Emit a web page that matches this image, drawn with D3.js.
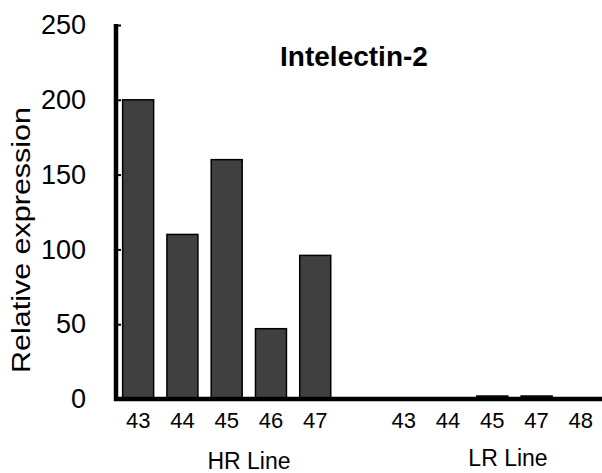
<!DOCTYPE html>
<html>
<head>
<meta charset="utf-8">
<script src="https://cdn.jsdelivr.net/npm/d3@7"></script>
<style>
  body { margin: 0; background: #fff; }
  text { font-family: "Liberation Sans", Arial, sans-serif; fill: #000; }
</style>
</head>
<body>
<div id="chart"></div>
<script>
// data
const groups = ["HR Line", "LR Line"]
const hrSamples = ["43", "44", "45", "46", "47"]
const hrValues = [200, 110, 160, 47, 96]
const lrSamples = ["43", "44", "45", "47", "48"]
const lrValues = [0.8, 0, 2, 2, 0]
const yTicks = [0, 50, 100, 150, 200, 250]

const width = 602, height = 473

// one slot per bar, with an empty slot between the two lines
const rows = []
hrSamples.forEach((s, i) => rows.push({key: "HR-" + s, label: s, value: hrValues[i], group: groups[0]}))
rows.push({key: "gap", label: "", value: null, group: null})
lrSamples.forEach((s, i) => rows.push({key: "LR-" + s, label: s, value: lrValues[i], group: groups[1]}))

const svg = d3.select("#chart")
  .append("svg")
  .attr("width", width)
  .attr("height", height)

const x = d3.scaleBand()
  .domain(rows.map(d => d.key))
  .range([116, 603])
  .paddingInner(0.3)
  .paddingOuter(0.15)

const y = d3.scaleLinear()
  .domain([0, 250])
  .range([399, 25])

// bars
svg.selectAll("rect.bar")
  .data(rows.filter(d => d.value !== null))
  .join("rect")
  .attr("class", "bar")
  .attr("x", d => x(d.key))
  .attr("width", x.bandwidth())
  .attr("y", d => y(d.value))
  .attr("height", d => y(0) - y(d.value))
  .style("fill", "#404040")
  .style("stroke", d => d.value > 0 ? "#000" : "none")
  .style("stroke-width", d => d.value > 1 ? 1.5 : 0.6)

// y axis: ticks point inwards, labels placed by hand to the left
const yAxis = svg.append("g")
  .attr("transform", "translate(116,0)")
  .call(d3.axisRight(y).tickValues(yTicks.filter(t => t > 0)).tickSize(5).tickFormat(""))
yAxis.select(".domain").remove()
yAxis.selectAll(".tick line").style("stroke", "#000").style("stroke-width", 2)

svg.append("line")
  .attr("x1", 116).attr("x2", 116)
  .attr("y1", y(250) - 1).attr("y2", y(0) + 2)
  .style("stroke", "#000").style("stroke-width", 4.5)

svg.selectAll("text.ytick")
  .data(yTicks)
  .join("text")
  .attr("class", "ytick")
  .attr("x", 86)
  .attr("y", d => y(d) + 2)
  .attr("text-anchor", "end")
  .attr("dominant-baseline", "middle")
  .style("font-size", "27px")
  .text(d => d)

// x baseline
svg.append("line")
  .attr("x1", 114).attr("x2", width)
  .attr("y1", y(0)).attr("y2", y(0))
  .style("stroke", "#000").style("stroke-width", 4.5)

// sample labels
svg.selectAll("text.xtick")
  .data(rows.filter(d => d.label))
  .join("text")
  .attr("class", "xtick")
  .attr("x", d => x(d.key) + x.bandwidth() / 2)
  .attr("y", 428)
  .attr("text-anchor", "middle")
  .style("font-size", "22px")
  .text(d => d.label)

// group labels
svg.append("text")
  .attr("x", 249).attr("y", 469)
  .attr("text-anchor", "middle")
  .style("font-size", "23px")
  .text(groups[0])
svg.append("text")
  .attr("x", 508).attr("y", 466)
  .attr("text-anchor", "middle")
  .style("font-size", "23px")
  .text(groups[1])

// y title, a little stretched like the original
svg.append("text")
  .attr("transform", "translate(30,240) rotate(-90) scale(1.22,1)")
  .attr("text-anchor", "middle")
  .style("font-size", "25px")
  .text("Relative expression")

// chart title
svg.append("text")
  .attr("x", 354).attr("y", 66)
  .attr("text-anchor", "middle")
  .style("font-size", "28px")
  .style("font-weight", "bold")
  .text("Intelectin-2")
</script>
</body>
</html>
